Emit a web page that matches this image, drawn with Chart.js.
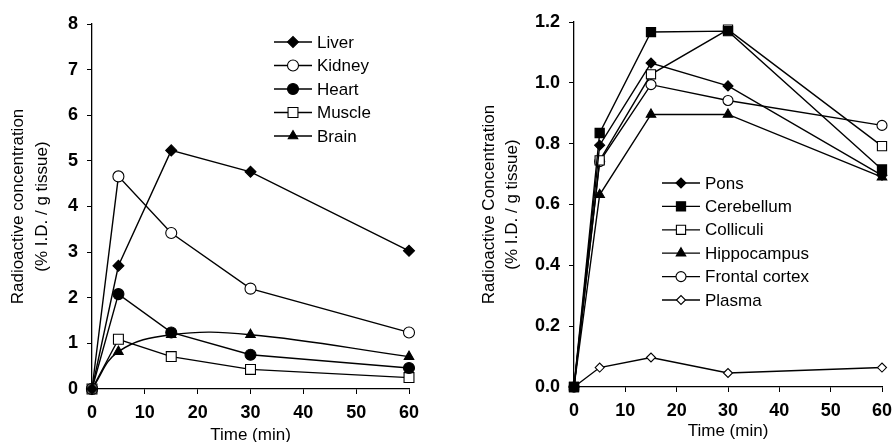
<!DOCTYPE html>
<html><head><meta charset="utf-8">
<script src="https://cdn.jsdelivr.net/npm/chart.js@4.4.0/dist/chart.umd.min.js"></script>
<style>
html,body{margin:0;padding:0;background:#fff;}
#wrap{position:relative;width:894px;height:442px;overflow:hidden;}
canvas{position:absolute;top:0;}
#c1{left:0;} #c2{left:450px;}
</style></head><body>
<div id="wrap"><canvas id="c1" width="450" height="442"></canvas><canvas id="c2" width="444" height="442"></canvas></div>
<script>
// ---- data ----
const times = [0, 5, 15, 30, 60];
const xTickValues = [0, 10, 20, 30, 40, 50, 60];
const leftYTicks = [0, 1, 2, 3, 4, 5, 6, 7, 8];
const rightYTicks = [0, 0.2, 0.4, 0.6, 0.8, 1.0, 1.2];

const liver  = [0, 2.70, 5.23, 4.76, 3.03];
const kidney = [0, 4.66, 3.42, 2.20, 1.24];
const heart  = [0, 2.08, 1.24, 0.75, 0.46];
const muscle = [0, 1.09, 0.71, 0.43, 0.25];
const brain  = [0, 0.82, 1.19, 1.19, 0.71];

const pons        = [0, 0.795, 1.065, 0.990, 0.696];
const cerebellum  = [0, 0.835, 1.167, 1.170, 0.715];
const colliculi   = [0, 0.745, 1.028, 1.175, 0.792];
const hippocampus = [0, 0.632, 0.896, 0.896, 0.690];
const frontal     = [0, 0.741, 0.994, 0.942, 0.860];
const plasma      = [0, 0.064, 0.097, 0.046, 0.064];

const FAMILY = "'Liberation Sans', Arial, sans-serif";

function ds(label, values, style, fill, radius, extra) {
  return Object.assign({
    label,
    data: times.map((t, i) => ({x: t, y: values[i]})),
    borderColor: '#000', borderWidth: 1.4,
    pointStyle: style, pointRadius: radius, pointHoverRadius: radius,
    pointBackgroundColor: fill, pointBorderColor: '#000', pointBorderWidth: 1.1,
    clip: false, tension: 0
  }, extra || {});
}

const lineLegend = {
  id: 'lineLegend',
  afterDraw(chart, args, o) {
    const ctx = chart.ctx;
    ctx.save();
    chart.data.datasets.forEach((d, i) => {
      const y = o.y + i * o.dy;
      ctx.strokeStyle = '#000'; ctx.lineWidth = 1.3;
      ctx.beginPath(); ctx.moveTo(o.x, y); ctx.lineTo(o.x + o.w, y); ctx.stroke();
      ctx.fillStyle = d.pointBackgroundColor; ctx.strokeStyle = '#000'; ctx.lineWidth = 1.1;
      Chart.helpers.drawPoint(ctx, {pointStyle: d.pointStyle, radius: d.pointRadius, borderWidth: 1.1, rotation: 0}, o.x + o.w / 2, y);
      ctx.fillStyle = '#000';
      ctx.font = '17px ' + FAMILY;
      ctx.textBaseline = 'middle'; ctx.textAlign = 'left';
      ctx.fillText(d.label, o.x + o.w + 5, y + 1);
    });
    ctx.restore();
  }
};

function makeScales(yMin, yMax, yTicks, yTitle, yWidth, xHeight, decimals, yTitleLH, xTitleLH) {
  return {
    x: {
      type: 'linear', min: 0, max: 60,
      afterBuildTicks: s => { s.ticks = xTickValues.map(v => ({value: v})); },
      afterFit: s => { s.height = xHeight; s.paddingRight = 0; s.paddingLeft = 0; },
      grid: {drawOnChartArea: false, drawTicks: true, tickLength: 5, tickColor: '#000', tickWidth: 1},
      border: {display: true, color: '#000', width: 1.3},
      ticks: {color: '#000', font: {family: FAMILY, size: 18, weight: 'bold'}, padding: 8, maxRotation: 0, autoSkip: false},
      title: {display: true, text: 'Time (min)', color: '#000', font: {family: FAMILY, size: 17, lineHeight: xTitleLH}, padding: 0}
    },
    y: {
      type: 'linear', min: yMin, max: yMax,
      afterBuildTicks: s => { s.ticks = yTicks.map(v => ({value: v})); },
      afterFit: s => { s.width = yWidth; s.paddingTop = 0; s.paddingBottom = 0; },
      grid: {drawOnChartArea: false, drawTicks: true, tickLength: 5, tickColor: '#000', tickWidth: 1},
      border: {display: true, color: '#000', width: 1.3},
      ticks: {color: '#000', font: {family: FAMILY, size: 18, weight: 'bold'}, padding: 9,
              callback: v => decimals ? Number(v).toFixed(decimals) : String(v)},
      title: {display: true, text: yTitle, color: '#000', font: {family: FAMILY, size: 17, lineHeight: yTitleLH}, padding: {top: 6, bottom: 0}}
    }
  };
}

Chart.defaults.animation = false;

new Chart(document.getElementById('c1'), {
  type: 'line',
  data: {datasets: [
    ds('Liver', liver, 'rectRot', '#000', 5.5),
    ds('Kidney', kidney, 'circle', '#fff', 5.5),
    ds('Heart', heart, 'circle', '#000', 5.5),
    ds('Muscle', muscle, 'rect', '#fff', 7),
    ds('Brain', brain, 'triangle', '#000', 5.5, {tension: 0.4})
  ]},
  options: {
    responsive: false, devicePixelRatio: 1, animation: false,
    layout: {padding: {left: 0, top: 24, right: 41, bottom: 0}},
    plugins: {legend: {display: false}, tooltip: {enabled: false},
      lineLegend: {x: 274, w: 38, y: 42, dy: 23.5}},
    scales: makeScales(0, 8, leftYTicks, ['Radioactive concentration', '(% I.D. / g tissue)'], 92, 53, 0, 24 / 17, 0.8)
  },
  plugins: [lineLegend]
});

new Chart(document.getElementById('c2'), {
  type: 'line',
  data: {datasets: [
    ds('Pons', pons, 'rectRot', '#000', 5),
    ds('Cerebellum', cerebellum, 'rect', '#000', 6.5),
    ds('Colliculi', colliculi, 'rect', '#fff', 6.5),
    ds('Hippocampus', hippocampus, 'triangle', '#000', 5.5),
    ds('Frontal cortex', frontal, 'circle', '#fff', 5),
    ds('Plasma', plasma, 'rectRot', '#fff', 4.5)
  ]},
  options: {
    responsive: false, devicePixelRatio: 1, animation: false,
    layout: {padding: {left: 22, top: 22, right: 12, bottom: 0}},
    plugins: {legend: {display: false}, tooltip: {enabled: false},
      lineLegend: {x: 212, w: 38, y: 183, dy: 23.4}},
    scales: makeScales(0, 1.2, rightYTicks, ['Radioactive Concentration', '(% I.D. / g tissue)'], 102, 55, 1, 23 / 17, 1.2)
  },
  plugins: [lineLegend]
});
</script>
</body></html>
